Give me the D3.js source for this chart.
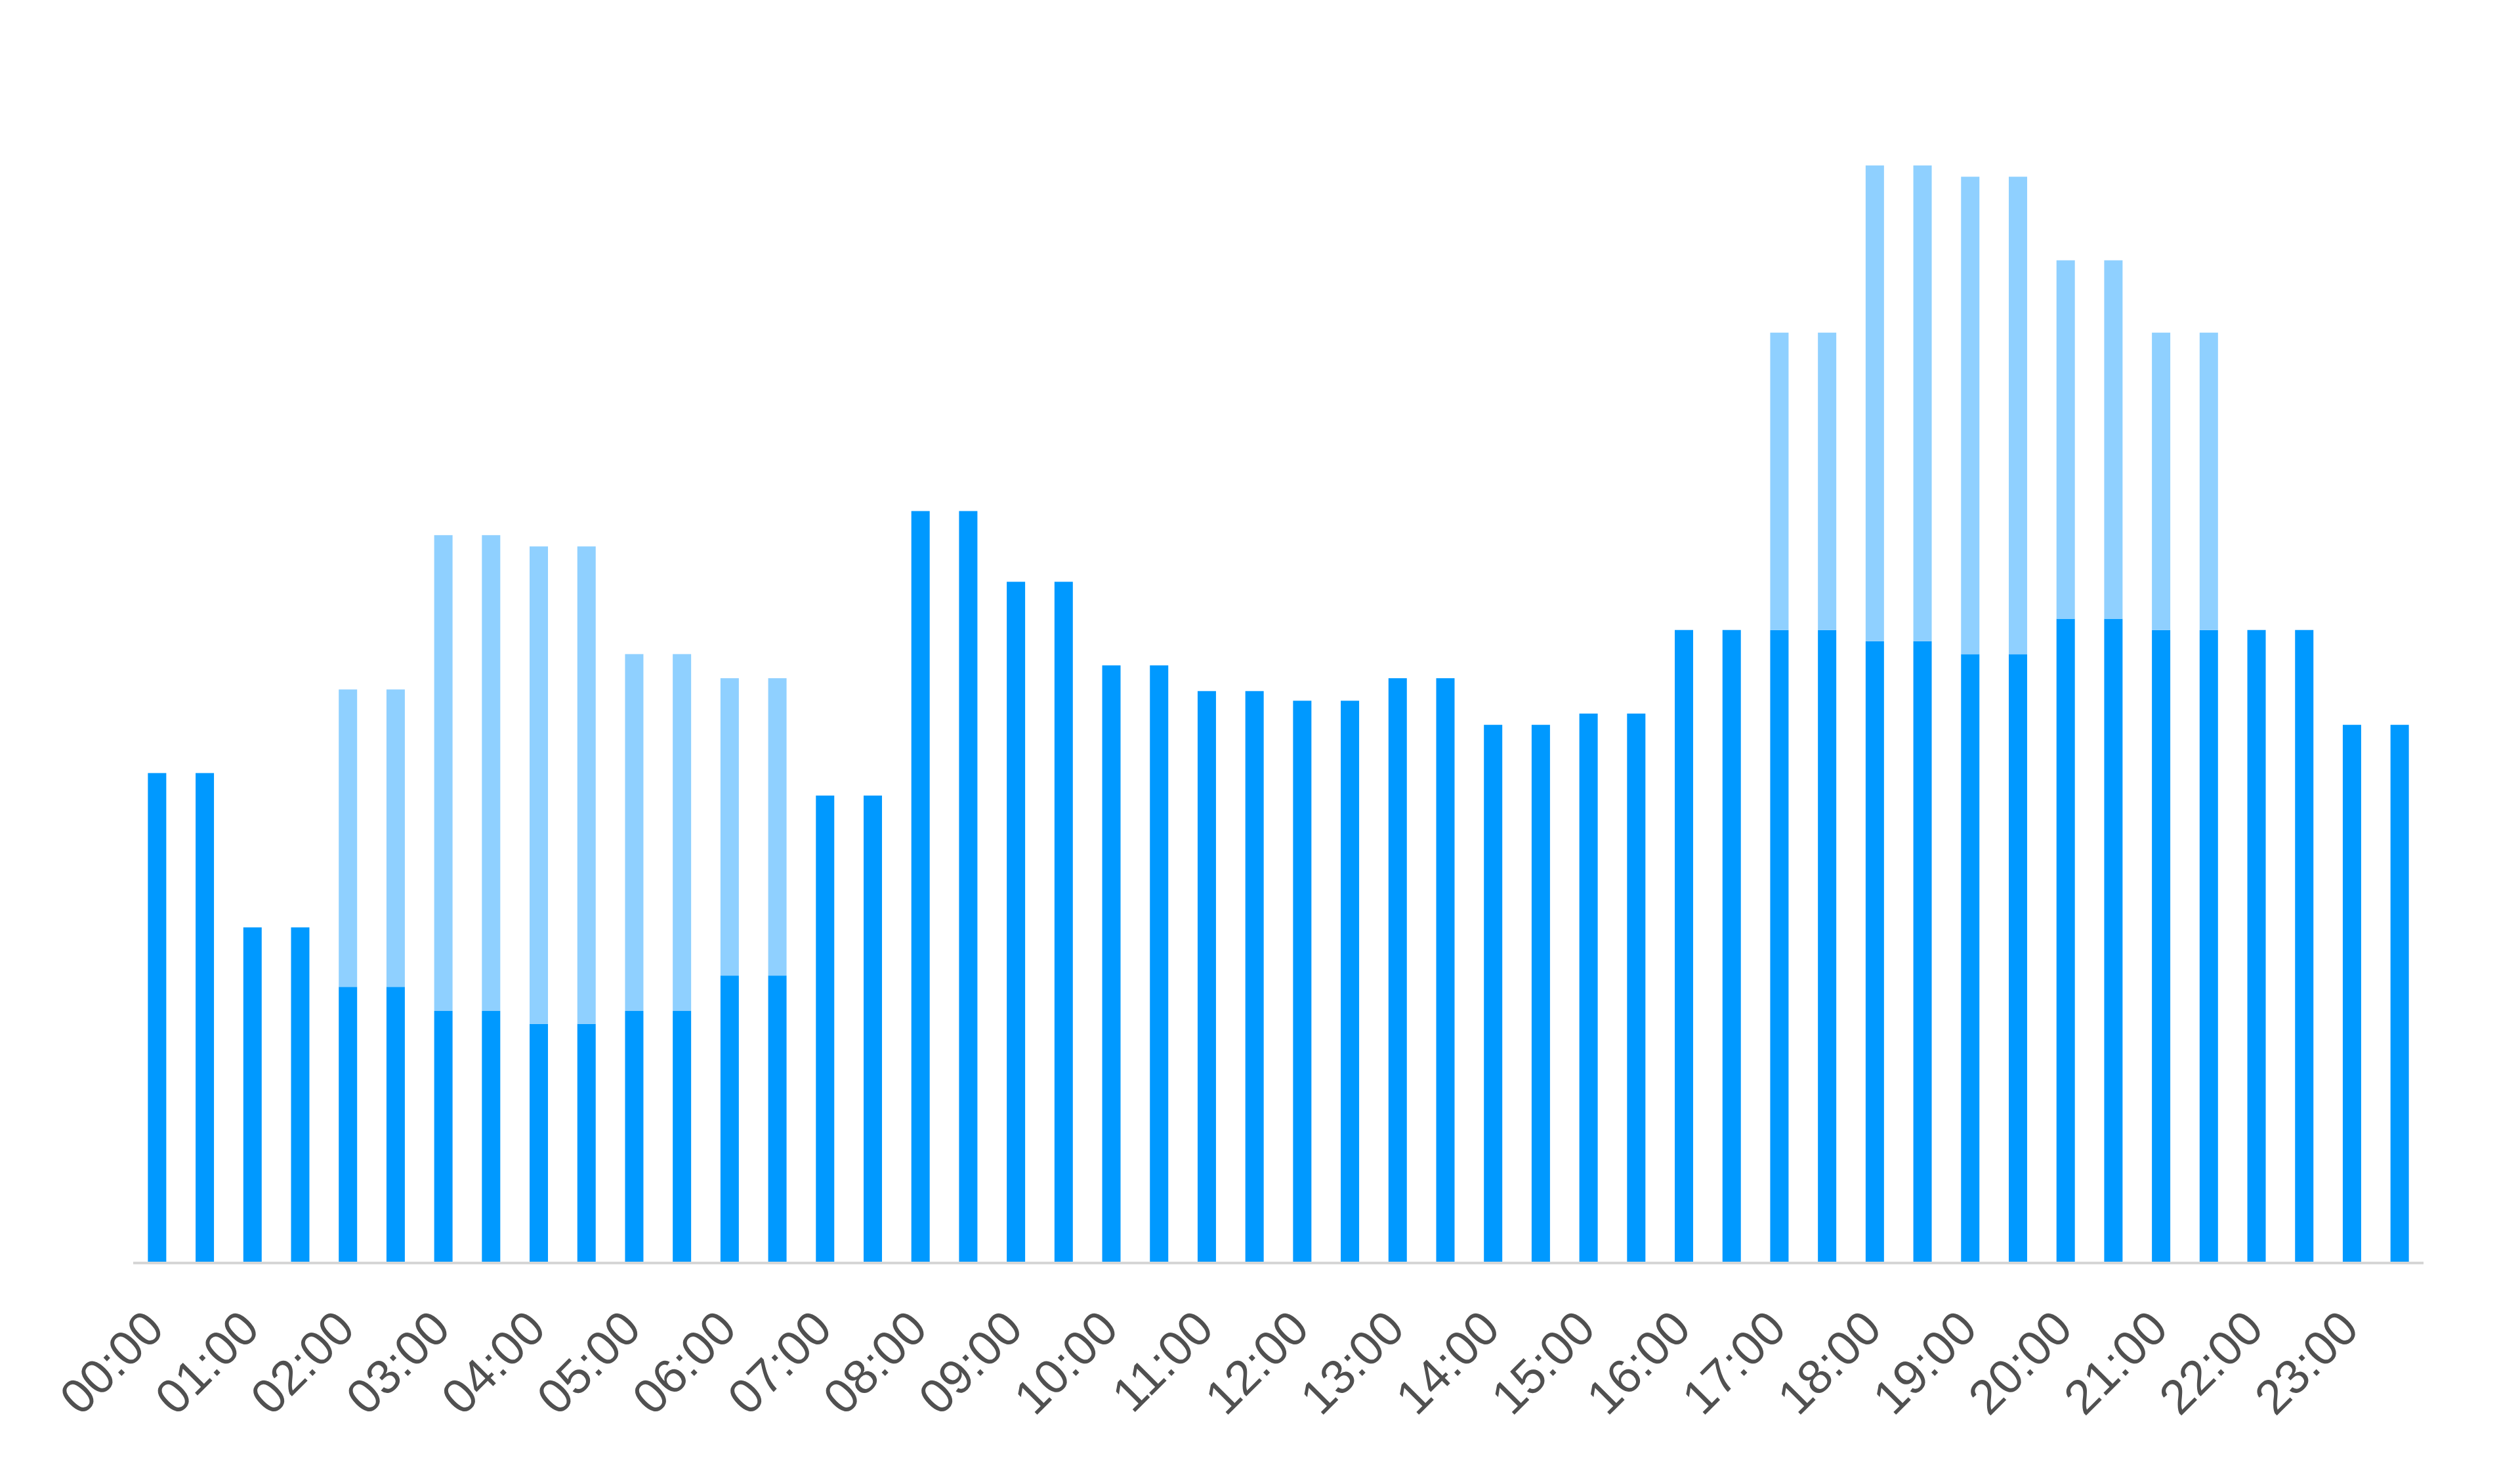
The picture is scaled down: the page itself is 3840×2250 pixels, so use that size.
<!DOCTYPE html>
<html>
<head>
<meta charset="utf-8">
<script src="https://cdn.jsdelivr.net/npm/d3@7"></script>
<style>
  html, body { margin: 0; padding: 0; background: #fff; }
</style>
</head>
<body>
<script>
// half-hour slots, one bar each
const slots = [
  "00:00", "00:30", "01:00", "01:30", "02:00", "02:30", "03:00", "03:30",
  "04:00", "04:30", "05:00", "05:30", "06:00", "06:30", "07:00", "07:30",
  "08:00", "08:30", "09:00", "09:30", "10:00", "10:30", "11:00", "11:30",
  "12:00", "12:30", "13:00", "13:30", "14:00", "14:30", "15:00", "15:30",
  "16:00", "16:30", "17:00", "17:30", "18:00", "18:30", "19:00", "19:30",
  "20:00", "20:30", "21:00", "21:30", "22:00", "22:30", "23:00", "23:30",
];

const tickLabels = [
  "00:00", "01:00", "02:00", "03:00", "04:00", "05:00", "06:00", "07:00",
  "08:00", "09:00", "10:00", "11:00", "12:00", "13:00", "14:00", "15:00",
  "16:00", "17:00", "18:00", "19:00", "20:00", "21:00", "22:00", "23:00",
];

// dark series (bottom of the stack)
const baseValues = [
  304, 304, 208, 208, 171, 171, 156, 156,
  148, 148, 156, 156, 178, 178, 290, 290,
  467, 467, 423, 423, 371, 371, 355, 355,
  349, 349, 363, 363, 334, 334, 341, 341,
  393, 393, 393, 393, 386, 386, 378, 378,
  400, 400, 393, 393, 393, 393, 334, 334,
];

// light series (stacked on top)
const extraValues = [
  0, 0, 0, 0, 185, 185, 296, 296,
  297, 297, 222, 222, 185, 185, 0, 0,
  0, 0, 0, 0, 0, 0, 0, 0,
  0, 0, 0, 0, 0, 0, 0, 0,
  0, 0, 185, 185, 296, 296, 297, 297,
  223, 223, 185, 185, 0, 0, 0, 0,
];

const width = 3840;
const height = 2250;
const margin = { top: 208, right: 147, bottom: 328, left: 203 };

const svg = d3
  .select("body")
  .append("svg")
  .attr("width", width)
  .attr("height", height);

const x = d3
  .scaleBand()
  .domain(slots)
  .range([margin.left, width - margin.right])
  .paddingInner(0.615)
  .paddingOuter(0.3075);

const y = d3
  .scaleLinear()
  .domain([0, 700])
  .range([height - margin.bottom, margin.top]);

const data = slots.map((s, i) => ({
  slot: s,
  base: baseValues[i],
  extra: extraValues[i],
}));

const stack = d3.stack().keys(["base", "extra"])(data);
const colors = { base: "#0099ff", extra: "#8fd0ff" };

svg
  .append("g")
  .selectAll("g")
  .data(stack)
  .join("g")
  .attr("fill", (d) => colors[d.key])
  .selectAll("rect")
  .data((d) => d.filter((p) => p[1] > p[0]))
  .join("rect")
  .attr("x", (d) => x(d.data.slot))
  .attr("y", (d) => y(d[1]))
  .attr("width", x.bandwidth())
  .attr("height", (d) => y(d[0]) - y(d[1]));

// x axis
const xAxis = svg
  .append("g")
  .attr("transform", `translate(0,${y(0)})`)
  .call(d3.axisBottom(x).tickValues(tickLabels).tickSize(0).tickSizeOuter(0));

xAxis
  .select(".domain")
  .attr("stroke", "#d6d6d6")
  .attr("stroke-width", 4)
  .attr("d", `M${margin.left},2H${width - margin.right}`);

xAxis
  .selectAll("text")
  .attr("x", 0)
  .attr("y", 0)
  .attr("dy", 0)
  .attr("transform", "translate(14,106) rotate(-45)")
  .style("text-anchor", "end")
  .style("font-family", "'Liberation Sans', Arial, sans-serif")
  .style("font-size", "74px")
  .attr("fill", "#505050");
</script>
</body>
</html>
